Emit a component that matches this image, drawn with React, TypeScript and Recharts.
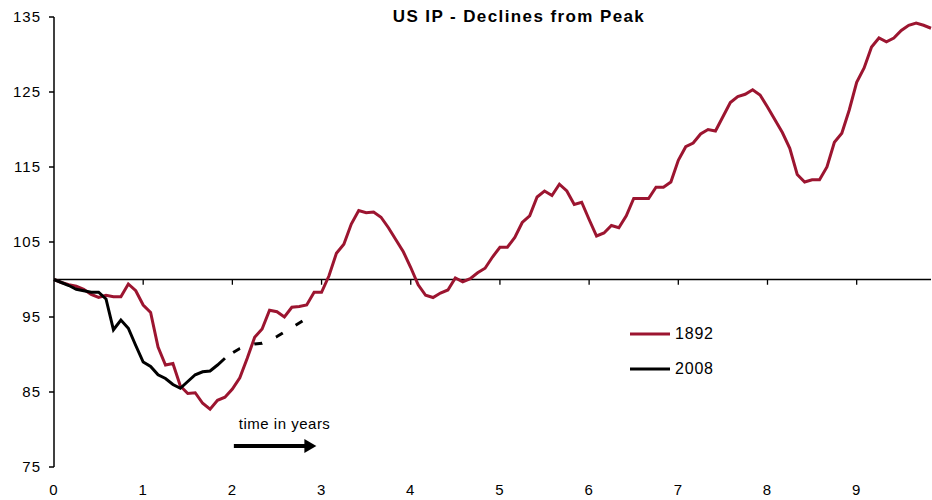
import React from 'react';
import { LineChart, Line, XAxis, YAxis, ReferenceLine, Legend } from 'recharts';

// month index (x axis), 0 = peak
const months: number[] = [
  0, 1, 2, 3, 4, 5, 6, 7, 8, 9, 10, 11, 12, 13, 14, 15, 16, 17, 18, 19,
  20, 21, 22, 23, 24, 25, 26, 27, 28, 29, 30, 31, 32, 33, 34, 35, 36, 37, 38, 39,
  40, 41, 42, 43, 44, 45, 46, 47, 48, 49, 50, 51, 52, 53, 54, 55, 56, 57, 58, 59,
  60, 61, 62, 63, 64, 65, 66, 67, 68, 69, 70, 71, 72, 73, 74, 75, 76, 77, 78, 79,
  80, 81, 82, 83, 84, 85, 86, 87, 88, 89, 90, 91, 92, 93, 94, 95, 96, 97, 98, 99,
  100, 101, 102, 103, 104, 105, 106, 107, 108, 109, 110, 111, 112, 113, 114, 115, 116, 117, 118,
];

const series1892: number[] = [
  100.0, 99.6, 99.3, 99.1, 98.7, 98.0, 97.6, 97.9, 97.7, 97.7,
  99.4, 98.5, 96.6, 95.6, 91.0, 88.6, 88.8, 85.8, 84.8, 84.9,
  83.5, 82.7, 83.9, 84.3, 85.4, 86.9, 89.5, 92.3, 93.4, 95.9,
  95.7, 95.0, 96.3, 96.4, 96.6, 98.3, 98.3, 100.5, 103.5, 104.7,
  107.4, 109.2, 108.9, 109.0, 108.3, 106.9, 105.3, 103.7, 101.6, 99.3,
  97.9, 97.6, 98.2, 98.6, 100.2, 99.7, 100.1, 100.9, 101.5, 103.0,
  104.3, 104.3, 105.6, 107.6, 108.5, 111.0, 111.8, 111.2, 112.7, 111.8,
  110.0, 110.3, 108.0, 105.8, 106.2, 107.2, 106.9, 108.5, 110.8, 110.8,
  110.8, 112.3, 112.3, 113.0, 115.9, 117.7, 118.2, 119.4, 120.0, 119.8,
  121.7, 123.6, 124.4, 124.7, 125.3, 124.6, 123.0, 121.3, 119.6, 117.5,
  114.0, 113.0, 113.3, 113.3, 115.0, 118.3, 119.5, 122.6, 126.3, 128.2,
  131.0, 132.2, 131.7, 132.2, 133.2, 133.9, 134.2, 133.9, 133.5,
];

const series2008: number[] = [
  100.0, 99.6, 99.2, 98.7, 98.5, 98.3, 98.3, 97.4, 93.3, 94.6,
  93.5, 91.2, 89.0, 88.4, 87.3, 86.8, 86.0, 85.5, 86.4, 87.3,
  87.7, 87.8, 88.6, 89.5,
];

// dashed continuation of 2008, starting at month 23
const projectionStartMonth = 23;
const series2008Projection: number[] = [
  89.5, 90.2, 90.8, 91.2, 91.4, 91.5, 91.9, 92.4, 93.0, 93.6, 94.2, 94.8,
];

const xTickMonths: number[] = [0, 12, 24, 36, 48, 60, 72, 84, 96, 108];
const xTickLabels: string[] = ['0', '1', '2', '3', '4', '5', '6', '7', '8', '9'];
const yTicks: number[] = [75, 85, 95, 105, 115, 125, 135];

const seriesNames = { a: '1892', b: '2008' };
const title = 'US IP - Declines from Peak';
const annotation = 'time in years';
const arrowFrom = { month: 24.2, value: 77.8 };
const arrowTo = { month: 35.3, value: 77.8 };

const RED = '#9c1530';
const FONT = "'Liberation Sans', Arial, Helvetica, sans-serif";

const data = months.map((m) => {
  const pi = m - projectionStartMonth;
  return {
    m,
    y1892: series1892[m] ?? null,
    y2008: m < series2008.length ? series2008[m] : null,
    proj: pi >= 0 && pi < series2008Projection.length ? series2008Projection[pi] : null,
  };
});

const ArrowShape = (props: any) => {
  const { x1, y1, x2 } = props;
  if (x1 == null) return null;
  return (
    <g>
      <text x={x1 + 5} y={y1 - 17} fontFamily={FONT} fontSize={15} fill="#000" style={{ letterSpacing: 0.5 }}>
        {annotation}
      </text>
      <line x1={x1} y1={y1} x2={x2 - 10} y2={y1} stroke="#000" strokeWidth={4} />
      <polygon points={`${x2 - 12},${y1 - 7} ${x2},${y1} ${x2 - 12},${y1 + 7}`} fill="#000" />
    </g>
  );
};

const LegendContent = () => (
  <div style={{ fontFamily: FONT, fontSize: 16, color: '#000' }}>
    {[
      { name: seriesNames.a, color: RED },
      { name: seriesNames.b, color: '#000' },
    ].map((it) => (
      <div key={it.name} style={{ display: 'flex', alignItems: 'center', height: 35 }}>
        <svg width={44} height={10} style={{ display: 'block' }}>
          <line x1={0} y1={5} x2={40} y2={5} stroke={it.color} strokeWidth={3} />
        </svg>
        <span style={{ marginLeft: 1, letterSpacing: 0.8 }}>{it.name}</span>
      </div>
    ))}
  </div>
);

const tickStyle = { fill: '#000', fontSize: 15, fontFamily: FONT, style: { letterSpacing: 1 } };

export default function App() {
  return (
    <div style={{ position: 'absolute', left: 0, top: 0, width: 932, height: 500, background: '#fff' }}>
      <div
        style={{
          position: 'absolute',
          left: 0,
          width: 1038,
          top: 7,
          textAlign: 'center',
          fontFamily: FONT,
          fontWeight: 'bold',
          fontSize: 17,
          letterSpacing: 1.4,
          zIndex: 2,
          whiteSpace: 'nowrap',
        }}
      >
        {title}
      </div>
      <LineChart width={932} height={500} data={data} margin={{ top: 17, right: 1, bottom: 0, left: 0 }}>
        <XAxis
          dataKey="m"
          type="number"
          domain={[0, 118]}
          ticks={xTickMonths}
          tickFormatter={(v: number) => xTickLabels[xTickMonths.indexOf(v)] ?? ''}
          axisLine={false}
          tickLine={false}
          tickSize={6}
          tickMargin={11}
          height={33}
          interval={0}
          tick={tickStyle}
        />
        <YAxis
          domain={[75, 135]}
          ticks={yTicks}
          width={54}
          interval={0}
          axisLine={{ stroke: '#000', strokeWidth: 1.5 }}
          tickLine={{ stroke: '#000', strokeWidth: 1.5 }}
          tickSize={5}
          tickMargin={8}
          tick={tickStyle}
        />
        <ReferenceLine y={100} stroke="#000" strokeWidth={1.3} />
        {xTickMonths.slice(1).map((t) => (
          <ReferenceLine
            key={t}
            segment={[
              { x: t, y: 100 },
              { x: t, y: 99.3 },
            ]}
            stroke="#000"
            strokeWidth={1.3}
          />
        ))}
        <ReferenceLine
          segment={[
            { x: arrowFrom.month, y: arrowFrom.value },
            { x: arrowTo.month, y: arrowTo.value },
          ]}
          shape={ArrowShape}
        />
        <Line
          type="linear"
          dataKey="y1892"
          name={seriesNames.a}
          stroke={RED}
          strokeWidth={3}
          dot={false}
          isAnimationActive={false}
        />
        <Line
          type="linear"
          dataKey="y2008"
          name={seriesNames.b}
          stroke="#000"
          strokeWidth={3}
          dot={false}
          isAnimationActive={false}
        />
        <Line
          type="linear"
          dataKey="proj"
          stroke="#000"
          strokeWidth={3}
          strokeDasharray="0 10 8 5"
          dot={false}
          legendType="none"
          isAnimationActive={false}
        />
        <Legend
          layout="vertical"
          align="center"
          verticalAlign="middle"
          content={LegendContent}
          wrapperStyle={{ position: 'absolute', left: 630, top: 316, width: 110 }}
        />
      </LineChart>
    </div>
  );
}
